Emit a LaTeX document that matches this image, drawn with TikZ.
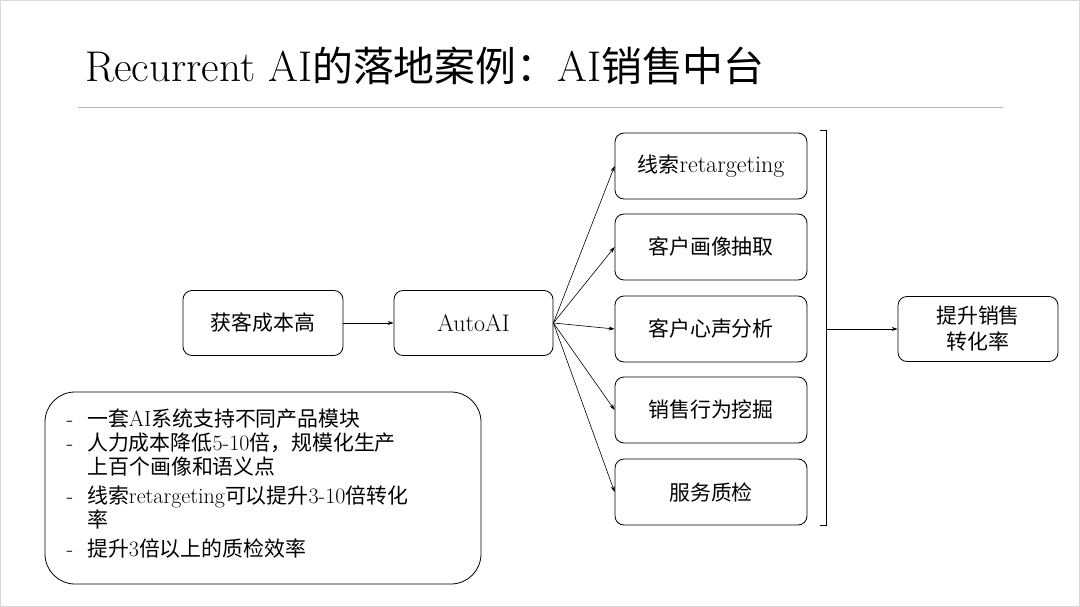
\documentclass[tikz,border=0pt]{standalone}
\usepackage{fontspec}
\newfontfamily\cjk{Noto Sans CJK SC}[Scale=0.95]
\usetikzlibrary{arrows.meta}
\begin{document}
\begin{tikzpicture}[x=1pt,y=-1pt,
  box/.style={draw,rounded corners=9pt,line width=0.8pt,minimum width=160pt,minimum height=65pt,align=center,font=\fontsize{22}{26}\selectfont},
  rbox/.style={box,minimum width=192pt,minimum height=66pt},
  arr/.style={-{Stealth[length=6pt,width=4pt]},line width=0.6pt}]
\useasboundingbox (0,0) rectangle (1080,607);
\draw[gray!30,line width=1pt] (0.5,0.5) rectangle (1079.5,606.5);
\node[anchor=base west,font=\fontsize{43}{48}\selectfont,inner sep=0pt] (title) at (85,82) {Recurrent AI{\cjk 的落地案例：}AI{\cjk 销售中台}};
\draw[gray!60,line width=0.8pt] (78,107) -- (1003,107);
\node[box] (a) at (263,323) {\cjk 获客成本高};
\node[box,minimum width=159pt,font=\fontsize{24}{26}\selectfont] (b) at (473.5,323) {AutoAI};
\node[rbox] (r1) at (711,166) {{\cjk 线索}{\fontsize{24}{26}\selectfont retargeting}};
\node[rbox] (r2) at (711,247) {\cjk 客户画像抽取};
\node[rbox] (r3) at (711,329) {\cjk 客户心声分析};
\node[rbox] (r4) at (711,410) {\cjk 销售行为挖掘};
\node[rbox] (r5) at (711,492) {\cjk 服务质检};
\node[box] (f) at (978,329) {\cjk 提升销售\\\cjk 转化率};
\draw[arr] (a) -- (b);
\foreach \i in {1,...,5} \draw[arr] (b.east) -- (r\i.west);
\coordinate (bt) at (826,131);
\coordinate (bb) at (826,525);
\coordinate (bm) at (826,329);
\draw[line width=1pt] ([xshift=-6pt]bt) -- (bt) -- (bb) -- ([xshift=-6pt]bb);
\draw[arr] (bm) -- (f);
\node[draw,rounded corners=30pt,line width=0.8pt,minimum width=436pt,minimum height=192pt] (list) at (263,488) {};
\node[anchor=north west,align=left,font=\fontsize{22}{24}\selectfont,text width=420pt] (txt) at (63,405) {%
-\hspace{14pt}{\cjk 一套}AI{\cjk 系统支持不同产品模块}\\
-\hspace{14pt}{\cjk 人力成本降低}5-10{\cjk 倍，规模化生产}\\
\hspace{21pt}{\cjk 上百个画像和语义点}\\[5pt]
-\hspace{14pt}{\cjk 线索}retargeting{\cjk 可以提升}3-10{\cjk 倍转化}\\
\hspace{21pt}{\cjk 率}\\[5pt]
-\hspace{14pt}{\cjk 提升}3{\cjk 倍以上的质检效率}};
\end{tikzpicture}
\end{document}
